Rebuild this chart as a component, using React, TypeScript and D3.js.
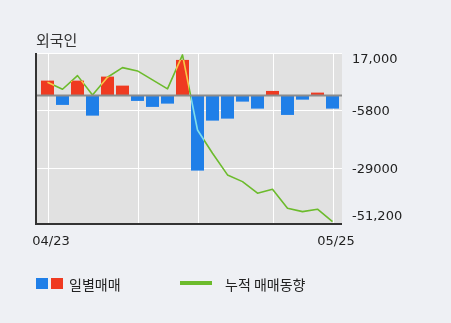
import React from "react";
import * as d3 from "d3";

const title = "외국인";
const days = ["04/23","04/24","04/25","04/26","04/27","04/30","05/02","05/03","05/04","05/08","05/09","05/10","05/11","05/14","05/15","05/16","05/17","05/18","05/21","05/25"];
const dailyNet = [5980, -3700, 5980, -7980, 7580, 3990, -2110, -4500, -3190, 14240, -29900, -9970, -9170, -2390, -5180, 1870, -7700, -1600, 1200, -5180];
const cumulative = [5340, 2550, 7980, 280, 7340, 11170, 9850, 6260, 2670, 16230, -13700, -23000, -31620, -34300, -38920, -37330, -44900, -46260, -45300, -50250];
const yTickValues = [17000, -5800, -29000, -51200];
const yTickLabels = ["17,000", "-5800", "-29000", "-51,200"];
const xTickDays = ["04/23", "05/25"];
const vGridDays = ["04/23", "05/02", "05/09", "05/16", "05/25"];
const legendBars = "일별매매";
const legendLine = "누적 매매동향";

const W = 451, H = 323;
const plot = { left: 37, right: 342, top: 53, bottom: 224 };
const RED = "#ef3a21";
const BLUE = "#1f7fe8";
const GREEN = "#6cbb2c";
const NUM_FONT = "'DejaVu Sans', sans-serif";
const KR_FONT = "'Noto Sans CJK KR', sans-serif";

export default function App() {
  const x = d3.scaleBand<string>().domain(days).range([40, 340]).paddingInner(2 / 15).paddingOuter(1 / 15);
  const y = d3.scaleLinear().domain([-51200, 17000]).range([plot.bottom, plot.top]);
  const cx = (d: string) => (x(d) as number) + x.bandwidth() / 2;
  const line = d3.line<number>().x((_, i) => cx(days[i])).y((v) => y(v));
  const linePath = line(cumulative) as string;
  const y0 = y(0);
  const labelY = [58, y(-5800), y(-29000) + 0.5, 215];

  const bars = dailyNet.map((v, i) => {
    const top = v >= 0 ? y(v) : y0;
    const h = Math.abs(y(v) - y0);
    return { key: days[i], x: x(days[i]) as number, y: top, h, color: v >= 0 ? RED : BLUE };
  });

  return (
    <svg width={W} height={H} style={{ position: "absolute", left: 0, top: 0, display: "block" }}>
      <defs>
        <clipPath id="barClip">
          {bars.map((b) => (
            <rect key={b.key} x={b.x} y={b.y} width={x.bandwidth()} height={b.h} />
          ))}
        </clipPath>
      </defs>
      <rect x={0} y={0} width={W} height={H} fill="#eef0f4" />
      <text x={36} y={39} fontFamily={KR_FONT} fontSize={15} fill="#333" dominantBaseline="central">{title}</text>
      <rect x={plot.left} y={plot.top} width={plot.right - plot.left} height={plot.bottom - plot.top} fill="#e1e1e1" />
      {yTickValues.slice(0, 3).map((v) => (
        <line key={v} x1={plot.left} x2={plot.right} y1={Math.round(y(v)) + 0.5} y2={Math.round(y(v)) + 0.5} stroke="#fff" strokeWidth={1} />
      ))}
      {vGridDays.map((d) => (
        <line key={d} x1={Math.round(cx(d)) + 0.5} x2={Math.round(cx(d)) + 0.5} y1={plot.top} y2={plot.bottom} stroke="#fff" strokeWidth={1} />
      ))}
      <path d={linePath} fill="none" stroke={GREEN} strokeWidth={1.6} strokeLinejoin="round" />
      {bars.map((b) => (
        <rect key={b.key} x={b.x} y={b.y} width={x.bandwidth()} height={b.h} fill={b.color} />
      ))}
      <path d={linePath} fill="none" stroke={GREEN} strokeWidth={1.6} strokeLinejoin="round" clipPath="url(#barClip)" style={{ mixBlendMode: "screen" }} />
      <line x1={plot.left} x2={plot.right} y1={y0} y2={y0} stroke="#8c8c8c" strokeWidth={2} />
      <line x1={36} x2={36} y1={plot.top} y2={plot.bottom + 1} stroke="#333" strokeWidth={2} />
      <line x1={35} x2={plot.right} y1={plot.bottom} y2={plot.bottom} stroke="#333" strokeWidth={2} />
      {yTickLabels.map((t, i) => (
        <text key={t} x={352} y={labelY[i]} fontFamily={NUM_FONT} fontSize={13} fill="#222" dominantBaseline="central">{t}</text>
      ))}
      {xTickDays.map((d) => (
        <text key={d} x={cx(d) + 3.5} y={240.5} fontFamily={NUM_FONT} fontSize={13} fill="#222" textAnchor="middle" dominantBaseline="central">{d}</text>
      ))}
      <rect x={36} y={278} width={12} height={11} fill={BLUE} />
      <rect x={51} y={278} width={12} height={11} fill={RED} />
      <text x={69} y={283.5} fontFamily={KR_FONT} fontSize={14} fill="#222" dominantBaseline="central">{legendBars}</text>
      <line x1={180} x2={212} y1={283} y2={283} stroke={GREEN} strokeWidth={4} />
      <text x={225} y={283.5} fontFamily={KR_FONT} fontSize={14} fill="#222" dominantBaseline="central">{legendLine}</text>
    </svg>
  );
}
